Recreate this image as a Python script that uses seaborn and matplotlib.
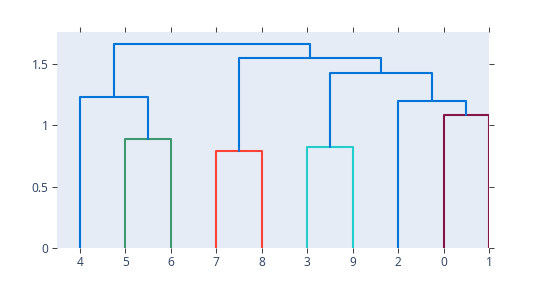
import matplotlib
matplotlib.use("Agg")
import matplotlib.pyplot as plt
import seaborn as sns
import pandas as pd

# Leaf order (bottom axis labels)
leaf_labels = ['4', '5', '6', '7', '8', '3', '9', '2', '0', '1']

# Merges: (name, left child, right child, height, colour)
merge_names = ['A', 'B', 'C', 'D', 'E', 'F', 'G', 'H', 'I']
merge_left = ['5', '7', '3', '0', '2', '4', 'C', 'B', 'F']
merge_right = ['6', '8', '9', '1', 'D', 'A', 'E', 'G', 'H']
merge_height = [0.888, 0.79, 0.823, 1.084, 1.198, 1.231, 1.426, 1.548, 1.663]
merge_color = ['rgb(61,153,112)', 'rgb(255,65,54)', 'rgb(35,205,205)',
               'rgb(133,20,75)', 'rgb(0,116,217)', 'rgb(0,116,217)',
               'rgb(0,116,217)', 'rgb(0,116,217)', 'rgb(0,116,217)']

y_ticks = [0, 0.5, 1, 1.5]
y_tick_labels = ['0', '0.5', '1', '1.5']


def rgb(s):
    v = [int(t) / 255 for t in s[4:-1].split(',')]
    return tuple(v)


# Build node positions from the leaf order and the merges
pos = {lab: 5 + 10 * i for i, lab in enumerate(leaf_labels)}
hgt = {lab: 0.0 for lab in leaf_labels}
rows = []
palette = {}
for name, l, r, h, c in zip(merge_names, merge_left, merge_right, merge_height, merge_color):
    xs = [pos[l], pos[l], pos[r], pos[r]]
    ys = [hgt[l], h, h, hgt[r]]
    for k, (x, y) in enumerate(zip(xs, ys)):
        rows.append({'x': x, 'y': y, 'seg': name, 'order': k})
    palette[name] = rgb(c)
    pos[name] = (pos[l] + pos[r]) / 2
    hgt[name] = h
df = pd.DataFrame(rows)

sns.set_style("white")
plt.rcParams['font.family'] = ['Open Sans', 'DejaVu Sans']

fig = plt.figure(figsize=(5.5, 3.08), dpi=100)
ax = fig.add_axes([57 / 550, 60 / 308, 432 / 550, 216 / 308])
ax.set_facecolor('#E5ECF6')

sns.lineplot(data=df, x='x', y='y', hue='seg', palette=palette, units='seg',
             estimator=None, sort=False, legend=False, linewidth=1.5, ax=ax)

ax.set_xlim(0, 95)
ax.set_ylim(0, 1.76)
ax.set_xlabel('')
ax.set_ylabel('')
ax.set_xticks([5 + 10 * i for i in range(len(leaf_labels))])
ax.set_xticklabels(leaf_labels)
ax.set_yticks(y_ticks)
ax.set_yticklabels(y_tick_labels)
for s in ax.spines.values():
    s.set_visible(False)
ax.tick_params(axis='both', which='both', direction='out', length=3.6, width=0.75,
               color='#444444', labelcolor='#2a3f5f', labelsize=8.6, pad=2.5,
               top=True, right=True, bottom=True, left=True,
               labeltop=False, labelright=False)
ax.grid(False)

fig.savefig('out.png', dpi=100)
